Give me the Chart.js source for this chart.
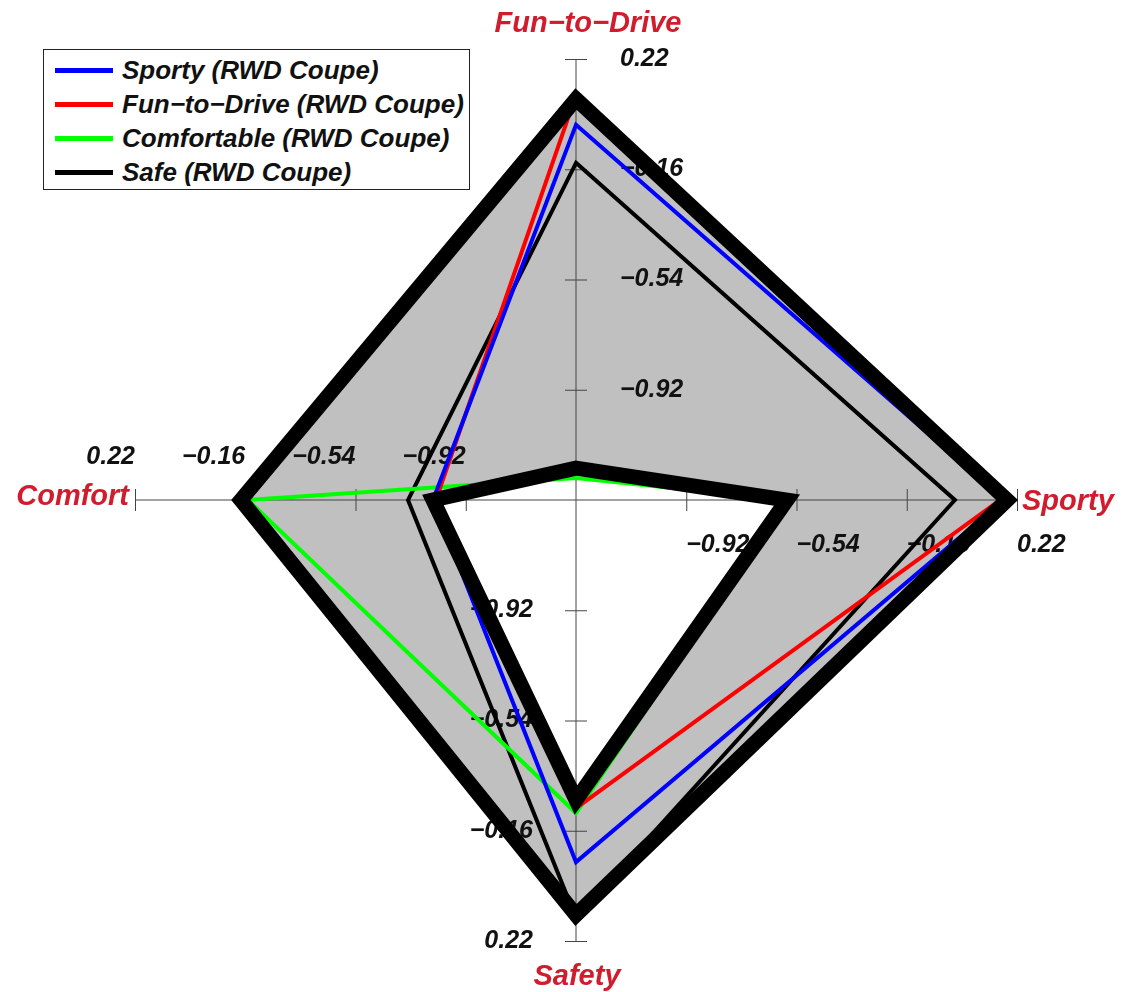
<!DOCTYPE html>
<html lang="en">
<head>
  <meta charset="UTF-8">
  <title>RWD Coupe Attribute Radar</title>
  <script src="https://cdn.jsdelivr.net/npm/chart.js"></script>
  <style>
    body {
      margin: 0;
      background-color: #fff;
      font-family: 'Liberation Sans', Arial, sans-serif;
    }

    #container {
      position: relative;
      width: 1122px;
      height: 992px;
    }

    canvas {
      position: absolute;
      left: 0;
      top: 0;
    }

    .legend-box {
      position: absolute;
      left: 43px;
      top: 49px;
      width: 427px;
      height: 141px;
      box-sizing: border-box;
      border: 1.5px solid #222;
      background: #fff;
      padding-top: 3px;
    }

    .legend-item {
      display: flex;
      align-items: center;
      height: 34px;
      font-size: 26px;
      font-weight: bold;
      font-style: italic;
      color: #111;
      white-space: nowrap;
    }

    .legend-line {
      display: inline-block;
      width: 58px;
      height: 5px;
      margin-left: 11px;
      margin-right: 9px;
    }
  </style>
</head>
<body>
  <div id="container">
    <canvas id="radarChart" width="1122" height="992"></canvas>
    <div class="legend-box" id="legend"></div>
  </div>

  <script>
    const categories = ["Fun\u2212to\u2212Drive", "Sporty", "Safety", "Comfort"];
    const tickValues = [-0.92, -0.54, -0.16, 0.22];
    const tickLabels = ["\u22120.92", "\u22120.54", "\u22120.16", "0.22"];
    const scaleMin = -1.30;
    const scaleMax = 0.22;

    const seriesNames = [
      "Sporty (RWD Coupe)",
      "Fun\u2212to\u2212Drive (RWD Coupe)",
      "Comfortable (RWD Coupe)",
      "Safe (RWD Coupe)"
    ];
    const seriesColors = ["#0000ff", "#ff0000", "#00ff00", "#000000"];

    // values in axis order: Fun-to-Drive, Sporty, Safety, Comfort
    const sporty = [-0.007, 0.175, -0.052, -0.807];
    const funToDrive = [0.096, 0.161, -0.238, -0.817];
    const comfortable = [-1.224, -0.569, -0.221, -0.169];
    const safe = [-0.138, 0.006, 0.141, -0.721];

    // outer and inner bounds of the shaded band
    const upperBound = [0.082, 0.186, 0.130, -0.145];
    const lowerBound = [-1.190, -0.573, -0.266, -0.807];

    const seriesData = [sporty, funToDrive, comfortable, safe];

    const titleColor = "#d01c2c";
    const labelFont = 'italic bold 25px "Liberation Sans", Arial, sans-serif';
    const titleFont = 'italic bold 29px "Liberation Sans", Arial, sans-serif';

    // axes, tick marks, tick labels and axis titles
    const axisPlugin = {
      id: 'axisMarks',
      beforeDatasetsDraw(chart) {
        const scale = chart.scales.r;
        const ctx = chart.ctx;
        const labelPos = [
          { dx: 44, dy: 0, align: 'left' },
          { dx: 0, dy: 45, align: 'left' },
          { dx: -43, dy: 0, align: 'right' },
          { dx: 0, dy: -43, align: 'right' }
        ];
        ctx.save();
        ctx.lineWidth = 1;
        ctx.strokeStyle = '#444';
        ctx.fillStyle = '#111';
        ctx.font = labelFont;
        ctx.textBaseline = 'middle';

        categories.forEach((name, i) => {
          const c = scale.getPointPositionForValue(i, scaleMin);
          const e = scale.getPointPositionForValue(i, scaleMax);
          const ang = Math.atan2(e.y - c.y, e.x - c.x);
          const nx = -Math.sin(ang);
          const ny = Math.cos(ang);
          const ox = Math.abs(nx) < 0.5 ? 0.5 : 0;
          const oy = Math.abs(ny) < 0.5 ? 0.5 : 0;

          ctx.beginPath();
          ctx.moveTo(c.x + ox, c.y + oy);
          ctx.lineTo(e.x + ox, e.y + oy);
          ctx.stroke();

          tickValues.forEach((v, k) => {
            const p = scale.getPointPositionForValue(i, v);
            ctx.beginPath();
            ctx.moveTo(p.x - nx * 11 + ox, p.y - ny * 11 + oy);
            ctx.lineTo(p.x + nx * 11 + ox, p.y + ny * 11 + oy);
            ctx.stroke();

            ctx.textAlign = labelPos[i].align;
            ctx.fillText(tickLabels[k], p.x + labelPos[i].dx, p.y + labelPos[i].dy);
          });
        });

        // axis titles
        ctx.font = titleFont;
        ctx.fillStyle = titleColor;
        const ends = categories.map((_, i) => scale.getPointPositionForValue(i, scaleMax));
        ctx.textAlign = 'center';
        ctx.fillText(categories[0], ends[0].x + 12, ends[0].y - 35);
        ctx.textAlign = 'left';
        ctx.fillText(categories[1], ends[1].x + 5, ends[1].y + 2);
        ctx.textAlign = 'center';
        ctx.fillText(categories[2], ends[2].x + 1, ends[2].y + 36);
        ctx.textAlign = 'right';
        ctx.fillText(categories[3], ends[3].x - 6, ends[3].y - 3);
        ctx.restore();
      }
    };

    const datasets = [
      {
        label: 'Lower bound',
        data: lowerBound,
        borderColor: '#000',
        borderWidth: 15,
        backgroundColor: '#fff',
        fill: 'start'
      },
      {
        label: 'Upper bound',
        data: upperBound,
        borderColor: '#000',
        borderWidth: 15,
        backgroundColor: '#c0c0c0',
        fill: 'start'
      }
    ];

    seriesNames.forEach((name, i) => {
      datasets.push({
        label: name,
        data: seriesData[i],
        borderColor: seriesColors[i],
        borderWidth: 4,
        fill: false
      });
    });

    new Chart(document.getElementById('radarChart'), {
      type: 'radar',
      data: {
        labels: categories,
        datasets
      },
      options: {
        responsive: false,
        animation: false,
        layout: {
          padding: { left: 135, right: 105, top: 59, bottom: 51 }
        },
        elements: {
          line: { tension: 0, borderJoinStyle: 'miter' },
          point: { radius: 0, hoverRadius: 0 }
        },
        scales: {
          r: {
            min: scaleMin,
            max: scaleMax,
            ticks: { display: false, stepSize: 0.38 },
            grid: { display: false },
            angleLines: { display: false },
            pointLabels: { display: false }
          }
        },
        plugins: {
          legend: { display: false },
          tooltip: { enabled: false },
          filler: { drawTime: 'beforeDatasetsDraw' }
        }
      },
      plugins: [axisPlugin]
    });

    // legend
    const legend = document.getElementById('legend');
    seriesNames.forEach((name, i) => {
      const row = document.createElement('div');
      row.className = 'legend-item';
      const swatch = document.createElement('span');
      swatch.className = 'legend-line';
      swatch.style.backgroundColor = seriesColors[i];
      row.appendChild(swatch);
      row.appendChild(document.createTextNode(name));
      legend.appendChild(row);
    });
  </script>
</body>
</html>
